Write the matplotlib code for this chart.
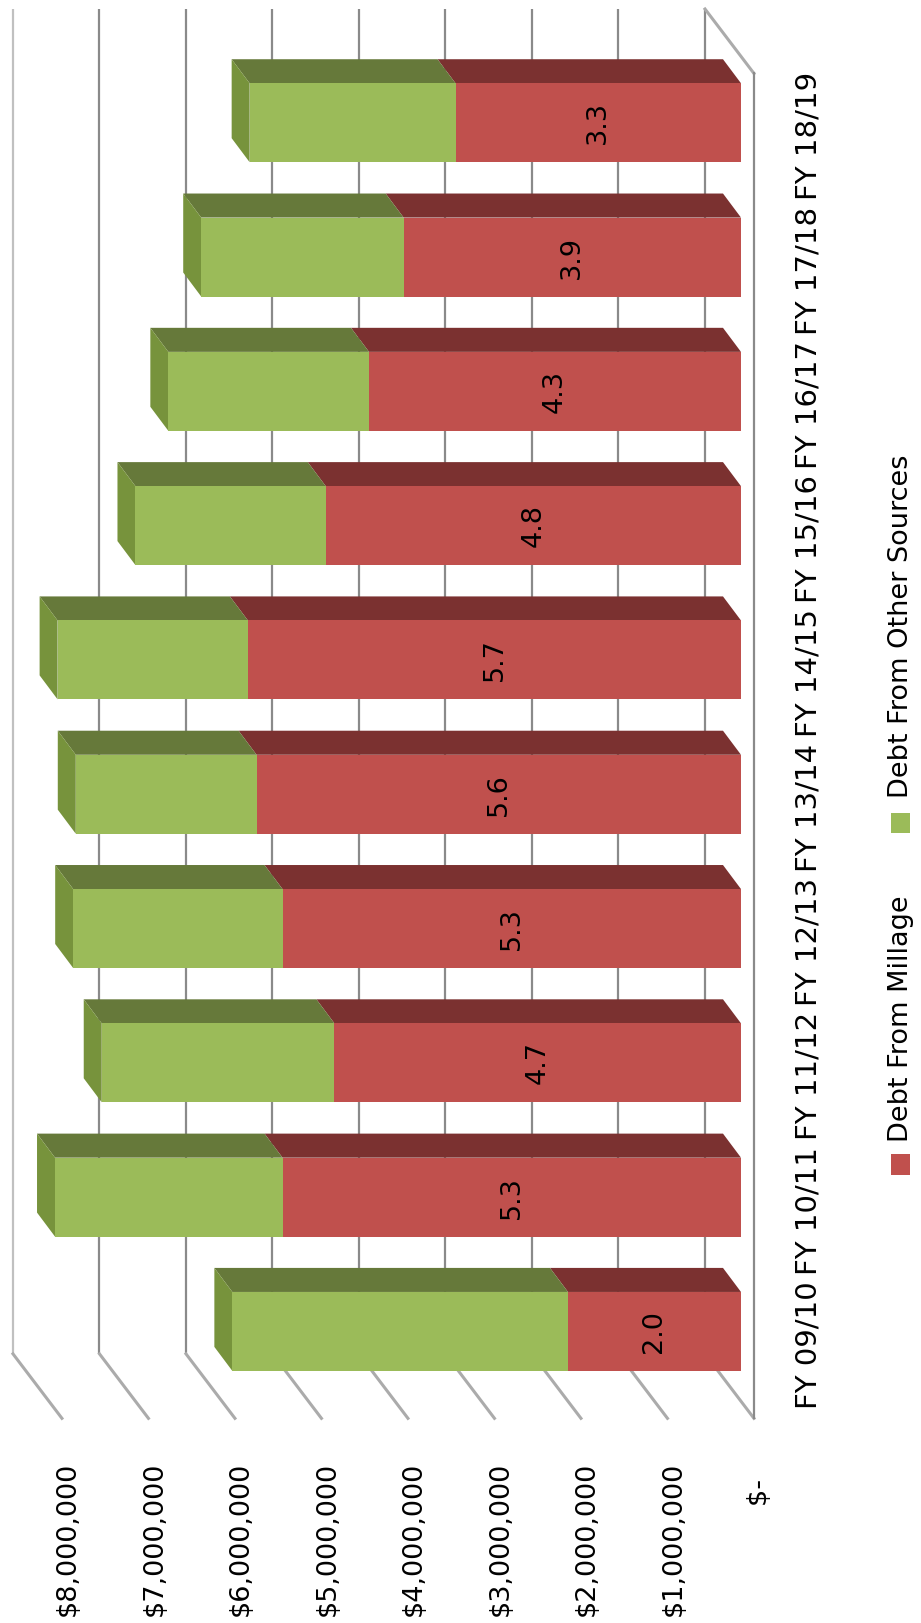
import numpy as np
import matplotlib
matplotlib.use('Agg')
import matplotlib.pyplot as plt
from matplotlib.patches import Polygon, Rectangle

# values in $ millions
cats = ['FY 09/10', 'FY 10/11', 'FY 11/12', 'FY 12/13', 'FY 13/14',
        'FY 14/15', 'FY 15/16', 'FY 16/17', 'FY 17/18', 'FY 18/19']
millage = [2.0, 5.3, 4.7, 5.3, 5.6, 5.7, 4.8, 4.3, 3.9, 3.3]
other = [3.88, 2.63, 2.69, 2.42, 2.09, 2.20, 2.20, 2.32, 2.34, 2.38]
ticks = [0, 1, 2, 3, 4, 5, 6, 7, 8]
tick_labels = ['$-  ', '$1,000,000', '$2,000,000', '$3,000,000', '$4,000,000',
               '$5,000,000', '$6,000,000', '$7,000,000', '$8,000,000']
series = ['Debt From Millage', 'Debt From Other Sources']

red, red_top = '#C0504D', '#7B3130'
green, green_top, green_cap = '#9BBB59', '#66793A', '#77933C'

fig = plt.figure(figsize=(9.21, 16.23), dpi=100)
ax = fig.add_axes([0, 0, 1, 1])
# chart is drawn rotated: values grow to the left, categories go up
ax.set_xlim(8.566, -2.081)
ax.set_ylim(-2.171, 9.914)
ax.axis('off')

y = np.arange(len(cats))
h = 0.588            # front face height
dx, dy = 0.208, 0.179  # bar depth
back = 0.416         # back wall offset
wx, wy = 0.566, 0.48   # wall -> front floor
wall_top, wall_bot = 9.847, -0.167

# walls / gridlines
for v, lab in zip(ticks, tick_labels):
    c = '#c0c0c0' if v == ticks[-1] else '#8a8a8a'
    ax.plot([v + back, v + back], [wall_bot, wall_top], color=c, lw=1.6,
            zorder=1, solid_capstyle='butt')
    ax.plot([v + back, v + back - wx], [wall_bot, wall_bot - wy],
            color='#ababab', lw=2.2, zorder=1)
    ax.text(v - 0.22, -0.972, lab, rotation=90, rotation_mode='anchor',
            ha='right', va='center', fontsize=19.5)

ax.plot([back, back - wx], [wall_top, wall_top - wy], color='#ababab', lw=2.2, zorder=1)
ax.plot([back - wx, back - wx], [wall_top - wy, wall_bot - wy], color='#8a8a8a',
        lw=1.6, zorder=1)

# bars
ax.barh(y, millage, height=h, color=red, zorder=3)
ax.barh(y, other, height=h, left=millage, color=green, zorder=3)

for i in range(len(cats)):
    top = y[i] + h / 2
    bot = y[i] - h / 2
    r = millage[i]
    t = r + other[i]
    ax.add_patch(Polygon([(0, top), (r, top), (r + dx, top + dy), (dx, top + dy)],
                         closed=True, color=red_top, lw=0, zorder=2))
    ax.add_patch(Polygon([(r, top), (t, top), (t + dx, top + dy), (r + dx, top + dy)],
                         closed=True, color=green_top, lw=0, zorder=2))
    ax.add_patch(Polygon([(t, bot), (t, top), (t + dx, top + dy), (t + dx, bot + dy)],
                         closed=True, color=green_cap, lw=0, zorder=2))
    ax.text(r / 2, y[i], '%.1f' % r, rotation=90, ha='center', va='center',
            fontsize=19.5, zorder=4)
    ax.text(-0.775, y[i] - 0.1, cats[i], rotation=90, ha='center', va='center',
            fontsize=21)

# legend
for sq_y, txt_y, col, name in [(1.243, 1.412, red, series[0]),
                                (3.786, 3.972, green, series[1])]:
    ax.add_patch(Rectangle((-1.844 - 0.1155, sq_y - 0.0745), 0.231, 0.149,
                           color=col, lw=0))
    ax.text(-1.850, txt_y, name, rotation=90, rotation_mode='anchor',
            ha='left', va='center', fontsize=19.5)

fig.savefig('out.png', dpi=100)
